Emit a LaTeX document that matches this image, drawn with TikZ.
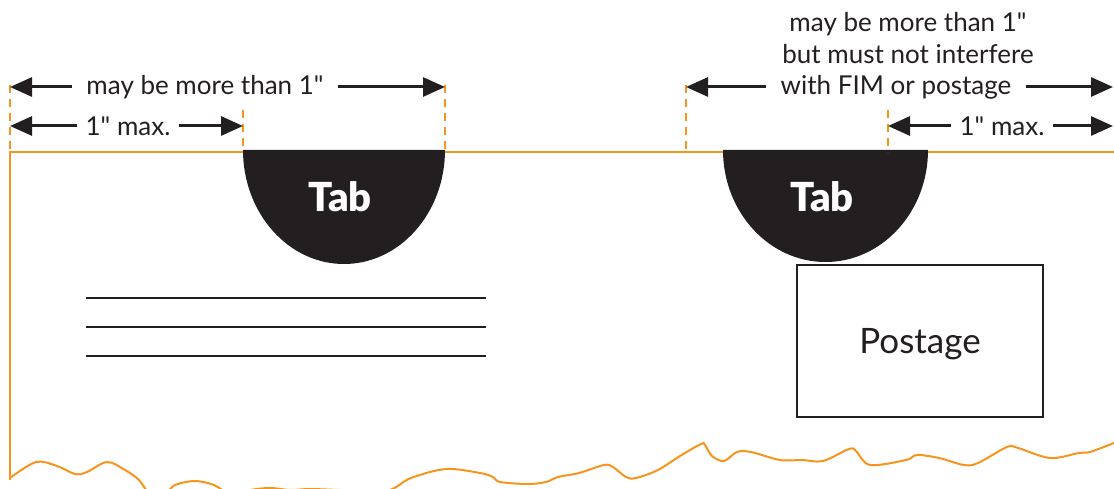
\documentclass[tikz,border=0pt]{standalone}
\usepackage{fontspec}
\setmainfont{Lato}[Ligatures=TeXOff]
\newfontfamily\heavyfont{Lato Black}
\usepackage{xcolor}
\definecolor{envOrange}{HTML}{F7941D}
\definecolor{inkBlack}{HTML}{231F20}
\usetikzlibrary{arrows.meta}

\begin{document}
\begin{tikzpicture}[
		x=1pt, y=-1pt,
		envline/.style={draw=envOrange, line width=2pt},
		guide/.style={draw=envOrange, line width=1.2pt, dash pattern=on 8pt off 6pt},
		dimarrow/.style={-{Triangle[length=22pt,width=19pt]}, line width=3pt, draw=inkBlack},
		dimlabel/.style={font=\fontsize{26}{32}\selectfont, text=inkBlack, inner xsep=14pt, inner ysep=1pt, align=center},
		tabtext/.style={font=\fontsize{40}{42}\selectfont\heavyfont, text=white},
		stampbox/.style={draw=inkBlack, line width=2pt, minimum width=246pt, minimum height=152pt,
			font=\fontsize{35}{38}\selectfont, text=inkBlack, text depth=0pt}
		]
		
		\useasboundingbox (0,0) rectangle (1114,489);
		\clip (0,0) rectangle (1114,489);
		
		% envelope edge
		\draw[envline] (10,480) -- (10,152) -- (1116,152);
		\draw[envline] plot[smooth, tension=0.55] coordinates {
			(10,478) (36,462) (57,466) (75,474) (87,472) (107,462) (125,470) (139,480) (150,494)
			(165,494) (175,485) (195,481) (214,485) (230,494) (250,490) (270,488) (290,490) (310,489)
			(340,490) (386,491) (411,478) (446,469) (480,473) (493,477) (500,482) (528,484) (546,482)
			(558,477) (579,473) (604,465) (613,467) (626,477) (636,478) (658,470) (680,456) (701,444)
			(705,445) (712,456) (724,461) (737,452) (751,452) (780,460) (802,460) (823,461) (849,449)
			(856,451) (870,465) (906,460) (917,455) (939,458) (964,465) (978,463) (1007,447) (1018,448)
			(1050,458) (1079,453) (1090,452) (1114,443) (1122,440)};
		
		% tabs
		\fill[inkBlack] (243,150) arc[start angle=180, end angle=360, x radius=101pt, y radius=114pt] -- cycle;
		\fill[inkBlack] (723,150) arc[start angle=180, end angle=360, x radius=102.5pt, y radius=112pt] -- cycle;
		\node[tabtext] (tabL) at (340,197) {Tab};
		\node[tabtext] (tabR) at (822,197) {Tab};
		
		% guides
		\draw[guide] (10,85) -- (10,152);
		\draw[guide] (243,110) -- (243,150);
		\draw[guide] (445,85) -- (445,150);
		\draw[guide] (686,85) -- (686,152);
		\draw[guide] (888,110) -- (888,152);
		
		% end points
		\coordinate (lOut) at (10,87);
		\coordinate (lTabR) at (445,87);
		\coordinate (lIn) at (10,126);
		\coordinate (lTabL) at (243,126);
		\coordinate (rOut) at (686,87);
		\coordinate (rEdge) at (1113,87);
		\coordinate (rTabR) at (888,126);
		\coordinate (rEdgeLow) at (1113,126);
		
		% left tab dimensions
		\node[dimlabel] (leftMore) at (205,87) {may be more than 1"};
		\node[dimlabel, inner xsep=8pt] (leftMax) at (128,126) {1" max.};
		\draw[dimarrow] (leftMore) -- (lOut);
		\draw[dimarrow] (leftMore) -- (lTabR);
		\draw[dimarrow] (leftMax) -- (lIn);
		\draw[dimarrow] (leftMax) -- (lTabL);
		
		% right tab dimensions
		\node[dimlabel] (rightNote) at (908,38) {may be more than 1"\\but must not interfere};
		\node[dimlabel] (rightMore) at (896,87) {with FIM or postage};
		\node[dimlabel, inner xsep=8pt] (rightMax) at (1002,126) {1" max.};
		\draw[dimarrow] (rightMore) -- (rOut);
		\draw[dimarrow] (rightMore) -- (rEdge);
		\draw[dimarrow] (rightMax) -- (rTabR);
		\draw[dimarrow] (rightMax) -- (rEdgeLow);
		
		% address and postage
		\draw[inkBlack, line width=2.5pt] (86,298) -- (486,298);
		\draw[inkBlack, line width=2.5pt] (86,327) -- (486,327);
		\draw[inkBlack, line width=2.5pt] (86,356) -- (486,356);
		\node[stampbox] (stamp) at (920,341) {Postage};
		
	\end{tikzpicture}
\end{document}
